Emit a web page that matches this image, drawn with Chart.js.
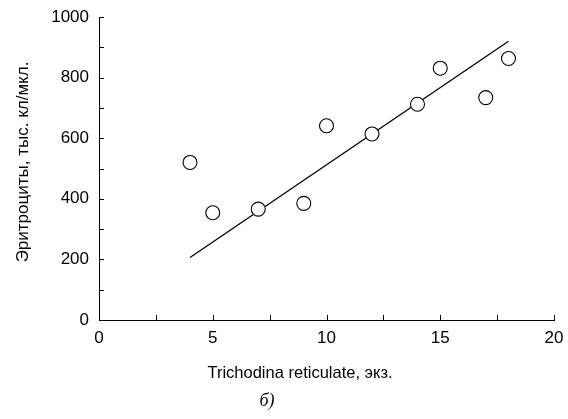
<!DOCTYPE html>
<html>
<head>
<meta charset="utf-8">
<script src="https://cdn.jsdelivr.net/npm/chart.js@4/dist/chart.umd.min.js"></script>
<style>
  html, body { margin: 0; padding: 0; background: #fff; }
  #wrap { width: 568px; height: 419px; }
</style>
</head>
<body>
<div id="wrap"><canvas id="erythroChart"></canvas></div>
<script>
// Observed points
const parasites = [4, 5, 7, 9, 10, 12, 14, 15, 17, 18];
const erythrocytes = [520, 354, 366, 385, 641, 614, 712, 831, 734, 863];

// Regression line ends
const fitX = [4, 18];
const fitY = [206, 920];

// Tick marks (major / minor)
const xMajorTicks = [0, 5, 10, 15, 20];
const xMinorTicks = [2.5, 7.5, 12.5, 17.5];
const yMajorTicks = [0, 200, 400, 600, 800, 1000];
const yMinorTicks = [100, 300, 500, 700, 900];

const xTitle = 'Trichodina reticulate, экз.';
const yTitle = 'Эритроциты, тыс. кл/мкл.';
const panelLabel = 'б)';

// Draws inward ticks and the axis titles
const axisDecor = {
    id: 'axisDecor',
    afterDraw(chart) {
        const ctx = chart.ctx;
        const xs = chart.scales.x;
        const ys = chart.scales.y;
        const area = chart.chartArea;
        ctx.save();
        ctx.strokeStyle = '#000';
        ctx.lineWidth = 1;
        ctx.beginPath();
        xMajorTicks.concat(xMinorTicks).forEach(v => {
            const px = Math.round(xs.getPixelForValue(v)) + 0.5;
            ctx.moveTo(px, area.bottom);
            ctx.lineTo(px, area.bottom - 5);
        });
        yMajorTicks.concat(yMinorTicks).forEach(v => {
            const py = Math.round(ys.getPixelForValue(v)) + 0.5;
            ctx.moveTo(area.left, py);
            ctx.lineTo(area.left + 5, py);
        });
        ctx.stroke();

        ctx.fillStyle = '#000';
        ctx.textAlign = 'center';
        ctx.textBaseline = 'middle';
        ctx.font = '16.5px "Liberation Sans", Arial, sans-serif';
        ctx.fillText(xTitle, 300, 373);

        ctx.font = 'italic 18px "Liberation Serif", "Times New Roman", serif';
        ctx.fillText(panelLabel, 267, 401);

        ctx.font = '17px "Liberation Sans", Arial, sans-serif';
        ctx.translate(23, 162);
        ctx.rotate(-Math.PI / 2);
        ctx.fillText(yTitle, 0, 0);
        ctx.restore();
    }
};

const tickFont = { family: '"Liberation Sans", Arial, sans-serif', size: 17 };

const ctx = document.getElementById('erythroChart').getContext('2d');
new Chart(ctx, {
    type: 'scatter',
    data: {
        datasets: [{
            type: 'line',
            data: fitX.map((x, i) => ({ x: x, y: fitY[i] })),
            borderColor: '#000',
            borderWidth: 1.3,
            pointRadius: 0,
            fill: false,
            order: 2
        }, {
            data: parasites.map((x, i) => ({ x: x, y: erythrocytes[i] })),
            backgroundColor: '#fff',
            borderColor: '#000',
            borderWidth: 1.1,
            pointRadius: 7,
            pointHoverRadius: 7,
            order: 1
        }]
    },
    options: {
        responsive: true,
        maintainAspectRatio: false,
        animation: false,
        layout: { padding: { left: 0, right: 14, top: 17, bottom: 0 } },
        plugins: {
            legend: { display: false },
            tooltip: { enabled: false }
        },
        scales: {
            x: {
                type: 'linear',
                min: 0,
                max: 20,
                afterFit: scale => {
                    scale.height = 99;
                    scale.paddingLeft = 0;
                    scale.paddingRight = 0;
                },
                grid: { display: false, drawTicks: false },
                border: { display: true, color: '#000', width: 1 },
                ticks: {
                    stepSize: 5,
                    padding: 8,
                    color: '#000',
                    font: tickFont,
                    callback: v => String(v)
                }
            },
            y: {
                type: 'linear',
                min: 0,
                max: 1000,
                afterFit: scale => {
                    scale.width = 99;
                    scale.paddingTop = 0;
                    scale.paddingBottom = 0;
                },
                grid: { display: false, drawTicks: false },
                border: { display: true, color: '#000', width: 1 },
                ticks: {
                    stepSize: 200,
                    padding: 10,
                    color: '#000',
                    font: tickFont,
                    callback: v => String(v)
                }
            }
        }
    },
    plugins: [axisDecor]
});
</script>
</body>
</html>
